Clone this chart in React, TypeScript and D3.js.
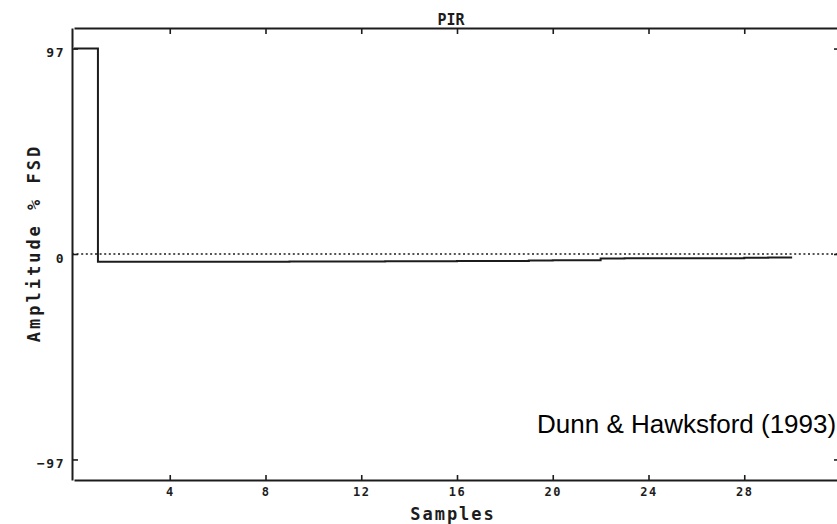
import React, { useEffect, useRef } from "react";
import * as d3 from "d3";

// impulse response, one value per sample (% FSD)
const samples = [0, 1, 2, 3, 4, 5, 6, 7, 8, 9, 10, 11, 12, 13, 14, 15, 16, 17, 18, 19, 20, 21, 22, 23, 24, 25, 26, 27, 28, 29, 30];
const amplitude = [97, -3.6, -3.6, -3.6, -3.6, -3.6, -3.6, -3.6, -3.6, -3.5, -3.5, -3.5, -3.5, -3.4, -3.4, -3.4, -3.3, -3.3, -3.3, -3.1, -3.0, -3.0, -2.1, -2.0, -2.0, -2.0, -2.0, -2.0, -1.8, -1.7, -1.7];
const xTicks = [4, 8, 12, 16, 20, 24, 28];
const yTicks = [-97, 0, 97];

const W = 837;
const H = 524;
const MONO = "'DejaVu Sans Mono', monospace";
const INK = "#1c1c1c";

const App = () => {
  const ref = useRef<SVGSVGElement>(null);

  useEffect(() => {
    const svg = d3.select(ref.current);
    svg.selectAll("*").remove();

    const x = d3.scaleLinear().domain([0, 32]).range([74, 840]);
    const y = d3.scaleLinear().domain([-106.7, 106.7]).range([480, 28]);

    const styleAxis = (g: any) => {
      g.selectAll(".domain").attr("stroke", INK).attr("stroke-width", 2);
      g.selectAll(".tick line").attr("stroke", INK).attr("stroke-width", 1.6);
      g.selectAll(".tick text")
        .attr("fill", INK)
        .attr("font-family", MONO)
        .attr("font-weight", "bold")
        .attr("font-size", 12)
        .attr("letter-spacing", 1.5);
    };

    // bottom axis
    svg.append("g")
      .attr("transform", `translate(0,${y.range()[0]})`)
      .call(d3.axisBottom(x).tickValues(xTicks).tickSize(-5).tickSizeOuter(0).tickPadding(7).tickFormat(d3.format("d")))
      .call(styleAxis);

    // top axis
    svg.append("g")
      .attr("transform", `translate(0,${y.range()[1]})`)
      .call(d3.axisTop(x).tickValues(xTicks).tickSize(-6).tickSizeOuter(0).tickFormat(() => ""))
      .call(styleAxis);

    // left axis
    svg.append("g")
      .attr("transform", `translate(${x.range()[0] - 2},0)`)
      .call(d3.axisLeft(y).tickValues(yTicks).tickSize(-6).tickSizeOuter(0).tickPadding(7).tickFormat(d3.format("d")))
      .call(styleAxis)
      .selectAll(".tick text")
      .attr("font-size", 13)
      .attr("dy", "0.62em");

    // right axis, falls just outside the cropped scan; only its ticks peek in
    svg.append("g")
      .attr("transform", `translate(${x.range()[1] + 4},0)`)
      .call(d3.axisRight(y).tickValues(yTicks).tickSize(-10).tickSizeOuter(0).tickFormat(() => ""))
      .call(styleAxis);

    // zero reference, dotted
    svg.append("line")
      .attr("x1", x.range()[0] - 2)
      .attr("x2", x.range()[1])
      .attr("y1", y(0))
      .attr("y2", y(0))
      .attr("stroke", INK)
      .attr("stroke-width", 1.4)
      .attr("stroke-dasharray", "2,2.6");

    const pts = samples.map((s, i) => [s, amplitude[i]] as [number, number]);
    const line = d3.line<[number, number]>()
      .x(d => x(d[0]))
      .y(d => y(d[1]))
      .curve(d3.curveStepAfter);

    svg.append("path")
      .datum(pts)
      .attr("d", line)
      .attr("fill", "none")
      .attr("stroke", INK)
      .attr("stroke-width", 2);

    // title
    svg.append("text")
      .attr("x", 451)
      .attr("y", 25)
      .attr("text-anchor", "middle")
      .attr("font-family", MONO)
      .attr("font-weight", "bold")
      .attr("font-size", 15)
      .attr("fill", INK)
      .text("PIR");

    // axis titles
    svg.append("text")
      .attr("x", 453)
      .attr("y", 520)
      .attr("text-anchor", "middle")
      .attr("font-family", MONO)
      .attr("font-weight", "bold")
      .attr("font-size", 17)
      .attr("letter-spacing", 2)
      .attr("fill", INK)
      .text("Samples");

    svg.append("text")
      .attr("transform", "translate(40,243) rotate(-90)")
      .attr("text-anchor", "middle")
      .attr("font-family", MONO)
      .attr("font-weight", "bold")
      .attr("font-size", 17)
      .attr("letter-spacing", 3)
      .attr("fill", INK)
      .text("Amplitude % FSD");

    // citation
    svg.append("text")
      .attr("x", 537)
      .attr("y", 433)
      .attr("font-family", "'Liberation Sans', Arial, sans-serif")
      .attr("font-size", 26)
      .attr("fill", "#000")
      .text("Dunn & Hawksford (1993)");
  }, []);

  return (
    <svg
      ref={ref}
      width={W}
      height={H}
      style={{ position: "absolute", left: 0, top: 0, background: "#fff" }}
    ></svg>
  );
};

export default App;
